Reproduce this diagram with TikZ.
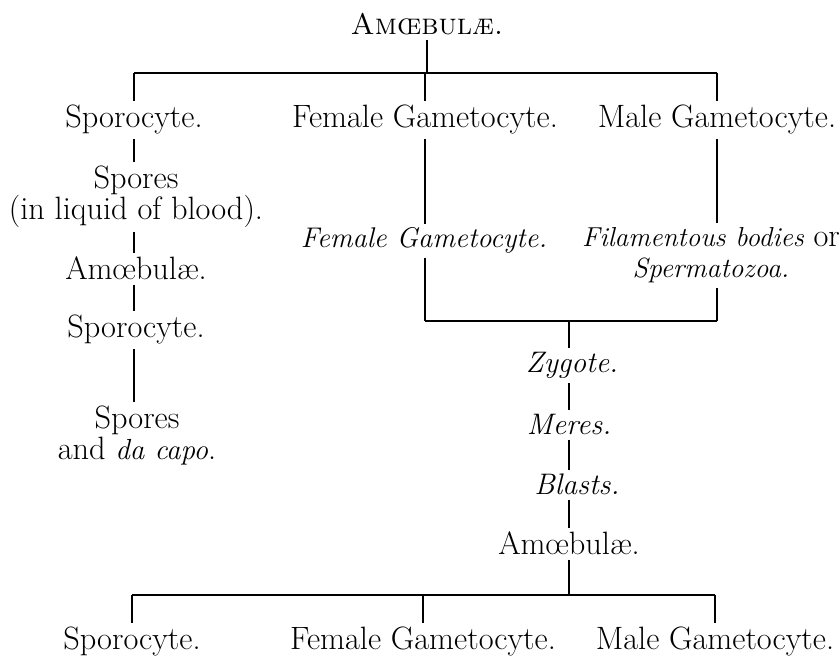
\documentclass[tikz,border=0pt]{standalone}
\newcommand\ital[2][16.9]{{\fontsize{#1}{17.5}\selectfont\itshape #2}}
\begin{document}
\begin{tikzpicture}[
  x=0.02cm,
  y=-0.02cm,
  entry/.style={anchor=base,inner sep=0pt,outer ysep=2.5pt,align=center,font=\fontsize{18.4}{17.8}\selectfont},
  heading/.style={entry,font=\fontsize{16.9}{17.8}\selectfont},
  stem/.style={draw=black,line width=0.7pt},
  crossbar/.style={draw=black,line width=0.9pt}
]
  \useasboundingbox (0,0) rectangle (840,658);

  \node[heading] (top) at (427,35) {\textsc{Amœbulæ.}};
  \node[entry] (spo) at (134,128) {Sporocyte.};
  \node[entry] (fem) at (425,128) {Female Gametocyte.};
  \node[entry] (male) at (717,128) {Male Gametocyte.};

  \node[entry] (spores) at (136,220) {Spores\\(in liquid of blood).};
  \node[entry] (amoeb) at (136,280) {Amœbulæ.};
  \node[entry] (spo2) at (136,338) {Sporocyte.};
  \node[entry] (spores2) at (137,460) {Spores\\and \ital[16.5]{da capo}.};

  \node[entry] (femit) at (424,248) {\ital[16.2]{Female Gametocyte.}};
  \node[entry] (fil) at (711,278) {\ital[15.6]{Filamentous bodies} or\\\ital[15.8]{Spermatozoa.}};

  \node[entry] (zyg) at (572,373) {\ital{Zygote.}};
  \node[entry] (meres) at (569,435) {\ital{Meres.}};
  \node[entry] (blasts) at (577,495) {\ital{Blasts.}};
  \node[entry] (amoeb2) at (569,555) {Amœbulæ.};

  \node[entry] (spo3) at (132,650) {Sporocyte.};
  \node[entry] (fem3) at (423,650) {Female Gametocyte.};
  \node[entry] (male3) at (715,650) {Male Gametocyte.};

  \coordinate (topbar) at (426,73);
  \coordinate (midbar) at (569,321);
  \coordinate (lowbar) at (569,595);

  \draw[stem] (top.south) -- (top.south |- topbar);
  \draw[crossbar] (spo.north |- topbar) -- (male.north |- topbar);
  \foreach \n in {spo,fem,male} {
    \draw[stem] (\n.north |- topbar) -- (\n.north);
  }

  \foreach \a/\b in {spo/spores,spores/amoeb,amoeb/spo2,spo2/spores2} {
    \draw[stem] (spo.south |- \a.south) -- (spo.south |- \b.north);
  }

  \draw[stem] (fem.south) -- (fem.south |- femit.north);
  \draw[stem] (fem.south |- femit.south) -- (fem.south |- midbar);
  \draw[stem] (male.south) -- (male.south |- fil.north);
  \draw[stem] (male.south |- fil.south) -- (male.south |- midbar);
  \draw[crossbar] (fem.south |- midbar) -- (male.south |- midbar);

  \draw[stem] (midbar) -- (midbar |- zyg.north);
  \foreach \a/\b in {zyg/meres,meres/blasts,blasts/amoeb2} {
    \draw[stem] (midbar |- \a.south) -- (midbar |- \b.north);
  }
  \draw[stem] (midbar |- amoeb2.south) -- (lowbar);

  \draw[crossbar] (spo3.north |- lowbar) -- (male3.north |- lowbar);
  \foreach \n in {spo3,fem3,male3} {
    \draw[stem] (\n.north |- lowbar) -- (\n.north);
  }
\end{tikzpicture}
\end{document}
